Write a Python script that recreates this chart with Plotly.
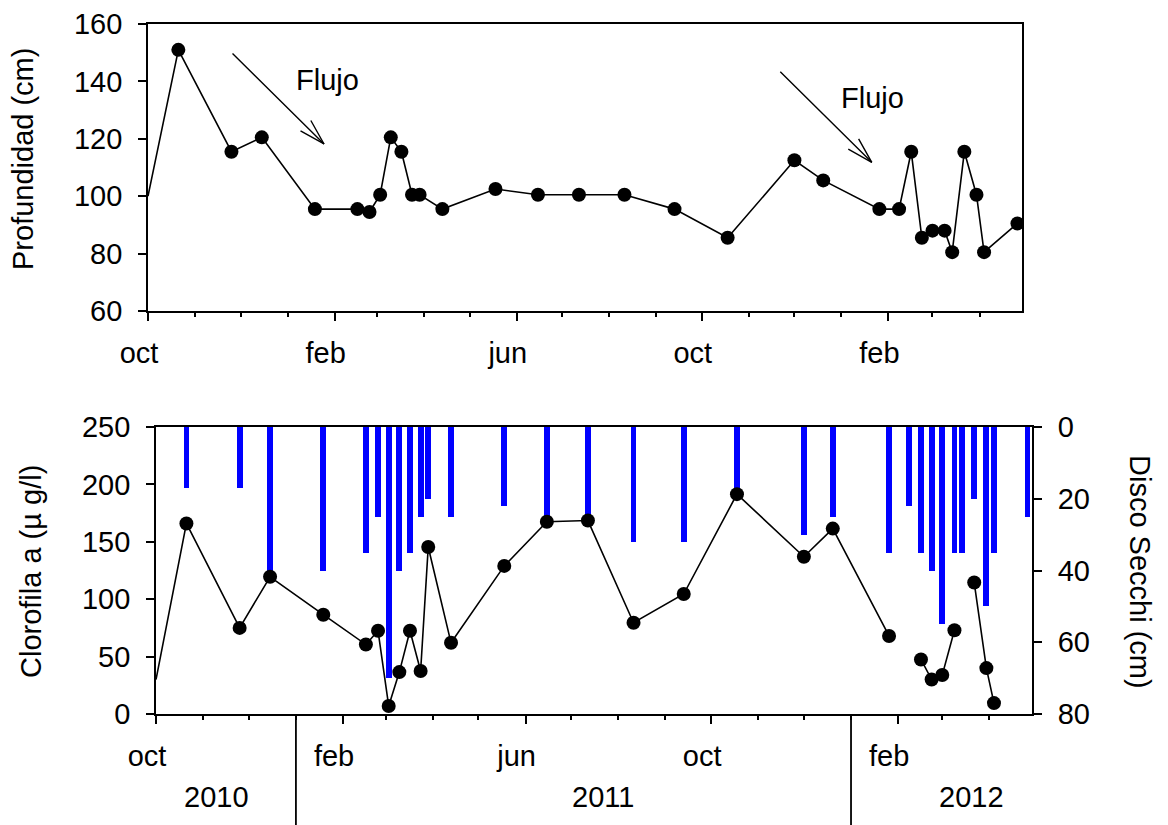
import plotly.graph_objects as go

# ---------------- data ----------------
fechas = ["2010-10-01", "2010-10-21", "2010-11-25", "2010-12-15", "2011-01-19",
          "2011-02-16", "2011-02-24", "2011-03-03", "2011-03-10", "2011-03-17",
          "2011-03-24", "2011-03-29", "2011-04-13", "2011-05-18", "2011-06-15",
          "2011-07-12", "2011-08-11", "2011-09-13", "2011-10-18", "2011-12-01",
          "2011-12-20", "2012-01-26", "2012-02-08", "2012-02-16", "2012-02-23",
          "2012-03-01", "2012-03-09", "2012-03-14", "2012-03-22", "2012-03-30",
          "2012-04-04", "2012-04-26"]

profundidad = [100, 151, 115.5, 120.5, 95.5, 95.5, 94.5, 100.5, 120.5, 115.5,
               100.5, 100.5, 95.5, 102.5, 100.5, 100.5, 100.5, 95.5, 85.5, 112.5,
               105.5, 95.5, 95.5, 115.5, 85.5, 88, 88, 80.5, 115.5, 100.5,
               80.5, 90.5]

clorofila = [30, 166, 75, 119.5, 86.5, 60.5, 72.5, 7, 36.5, 72.5,
             37.5, 145.5, 62, 129, 167.5, 168.5, 79.5, 104.5, 191.5, 137,
             161.5, 68, None, 47.5, 30, 34, 73, None, 114.5, 40,
             9.5, None]

secchi = [None, 17, 17, 41, 40, 35, 25, 70, 40, 35,
          25, 20, 25, 22, 25, 25, 32, 32, 18, 30,
          25, 35, 22, 35, 40, 55, 35, 35, 20, 50,
          35, 25]

mes_ticks = ["2010-10-01", "2011-02-01", "2011-06-01", "2011-10-01", "2012-02-01"]
mes_labels = ["oct", "feb", "jun", "oct", "feb"]
anios = ["2010", "2011", "2012"]
anio_pos = ["2010-11-10", "2011-07-22", "2012-03-20"]
anio_limites = ["2011-01-01", "2012-01-01"]
rango_x = ["2010-10-01", "2012-04-29"]

# ---------------- style ----------------
FONT = "Liberation Sans, Arial, sans-serif"
FS = 29
marker_sizes = [0] + [14] * (len(fechas) - 1)

fig = go.Figure()

fig.add_trace(go.Scatter(
    x=fechas, y=profundidad, mode="lines+markers",
    line=dict(color="black", width=1.6),
    marker=dict(color="black", size=marker_sizes, opacity=1, line=dict(width=0)),
    xaxis="x", yaxis="y", showlegend=False))

fig.add_trace(go.Bar(
    x=fechas, y=secchi, base=0, marker=dict(color="#0000FF", line=dict(width=0)),
    width=3.8 * 86400000, xaxis="x2", yaxis="y2", showlegend=False))

fig.add_trace(go.Scatter(
    x=fechas, y=clorofila, mode="lines+markers", connectgaps=False,
    line=dict(color="black", width=1.6),
    marker=dict(color="black", size=marker_sizes, opacity=1, line=dict(width=0)),
    xaxis="x2", yaxis="y3", showlegend=False))

W, H = 1168, 825
OFF = 8  # page body margin of the browser

def px_x(p):
    return (p - OFF) / W

def px_y(p):
    return 1 - (p - OFF) / H

xcommon = dict(
    type="date", range=rango_x, tickvals=mes_ticks, ticktext=mes_labels,
    ticks="outside", ticklen=8, tickwidth=1.8, tickcolor="black",
    showline=True, linecolor="black", linewidth=1.8, mirror=True,
    showgrid=False, zeroline=False, ticklabelshift=-9, ticklabelstandoff=7,
    automargin=False,
    tickfont=dict(family=FONT, size=FS, color="black"),
    minor=dict(ticks="outside", ticklen=4, tickwidth=1.8, tickcolor="black",
               dtick="M1", tick0="2010-10-01", showgrid=False),
)

ycommon = dict(
    ticks="outside", ticklen=8, tickwidth=1.8, tickcolor="black",
    showline=True, linecolor="black", linewidth=1.8,
    showgrid=False, zeroline=False, ticklabelstandoff=10, automargin=False,
    tickfont=dict(family=FONT, size=FS, color="black"),
)

fig.update_layout(
    template="none",
    width=W, height=H, margin=dict(l=0, r=0, t=0, b=0, pad=0, autoexpand=False),
    paper_bgcolor="white", plot_bgcolor="white",
    font=dict(family=FONT, size=FS, color="black"),
    bargap=0,
    xaxis=dict(domain=[px_x(148), px_x(1022)], anchor="y", **xcommon),
    yaxis=dict(domain=[px_y(311), px_y(24)], anchor="x", range=[60, 160],
               dtick=20, mirror=True, **ycommon),
    xaxis2=dict(domain=[px_x(156), px_x(1032)], anchor="y2", **xcommon),
    yaxis2=dict(domain=[px_y(714), px_y(427)], anchor="x2", side="right",
                range=[80, 0], dtick=20, **ycommon),
    yaxis3=dict(overlaying="y2", anchor="x2", side="left", range=[0, 250],
                dtick=50, **ycommon),
)

ann = []
centre = dict(xanchor="center", yanchor="middle", showarrow=False,
              font=dict(family=FONT, size=FS, color="black"))
# axis titles
ann.append(dict(text="Profundidad (cm)", x=px_x(23), y=px_y(159), xref="paper", yref="paper",
                textangle=-90, **centre))
ann.append(dict(text="Clorofila a (\u00b5 g/l)", x=px_x(31), y=px_y(572), xref="paper", yref="paper",
                textangle=-90, **centre))
ann.append(dict(text="Disco Secchi (cm)", x=px_x(1140), y=px_y(572), xref="paper", yref="paper",
                textangle=90, **centre))
# year labels
for a, p in zip(anios, anio_pos):
    ann.append(dict(text=a, x=p, y=px_y(797), xref="x2", yref="paper", **centre))
# Flujo labels and arrows
flujo_txt = [(px_x(327), px_y(80)), (px_x(872), px_y(98))]
for (fx, fy) in flujo_txt:
    ann.append(dict(text="Flujo", x=fx, y=fy, xref="paper", yref="paper", **centre))
flechas = [("2011-01-25", 118.2), ("2012-01-21", 111.8)]
for hx, hy in flechas:
    for (ax, ay) in [(-93, -92), (-14, -25), (-25, -14)]:
        ann.append(dict(text="", x=hx, y=hy, xref="x", yref="y", ax=ax, ay=ay,
                        showarrow=True, arrowhead=0, arrowwidth=1.4, arrowcolor="black",
                        standoff=0, startstandoff=0))
fig.update_layout(annotations=ann)

# year separators below the lower axis
for d in anio_limites:
    fig.add_shape(type="line", x0=d, x1=d, y0=0, y1=px_y(714), xref="x2", yref="paper",
                  line=dict(color="black", width=1.8))

fig.write_html("out.html")
